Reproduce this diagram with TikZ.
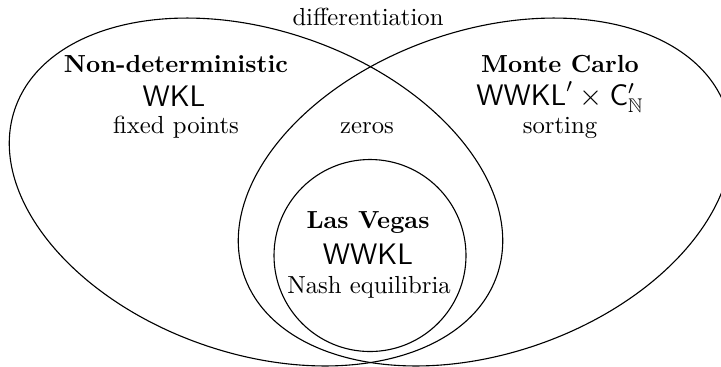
\documentclass[tikz,border=0pt]{standalone}
\usepackage{amssymb}
\begin{document}
\begin{tikzpicture}[x=0.405pt,y=0.405pt,
  lbl/.style={anchor=base, inner sep=0pt},
  bigl/.style={anchor=base, inner sep=0pt, font=\large},
  setline/.style={line width=0.45pt}]
\useasboundingbox (0,0) rectangle (721,366);
% sets
\draw[setline, shift={(256,174)}, rotate=-19.1] (0,0) ellipse [x radius=255, y radius=161.5];
\draw[setline, shift={(485,174)}, rotate=19.1] (0,0) ellipse [x radius=255, y radius=161.5];
\draw[setline] (370,110.5) circle [radius=96];
% labels
\node[lbl] (diff) at (368,341) {differentiation};
\node[lbl] (nd) at (176,293.3) {\bfseries Non-deterministic};
\node[bigl] (wkl) at (174,260) {$\mathsf{WKL}$};
\node[lbl] (fp) at (176,233) {fixed points};
\node[lbl] (zeros) at (367,233) {zeros};
\node[lbl] (mc) at (560,293.3) {\bfseries Monte Carlo};
\node[bigl] (wwklc) at (560,261) {$\mathsf{WWKL}'\times\mathsf{C}'_{\mathbb{N}}$};
\node[lbl] (sort) at (560,233) {sorting};
\node[lbl] (lv) at (368,137.3) {\bfseries Las Vegas};
\node[bigl] (wwkl) at (368,101.3) {$\mathsf{WWKL}$};
\node[lbl] (nash) at (369,73) {Nash equilibria};
\end{tikzpicture}
\end{document}
